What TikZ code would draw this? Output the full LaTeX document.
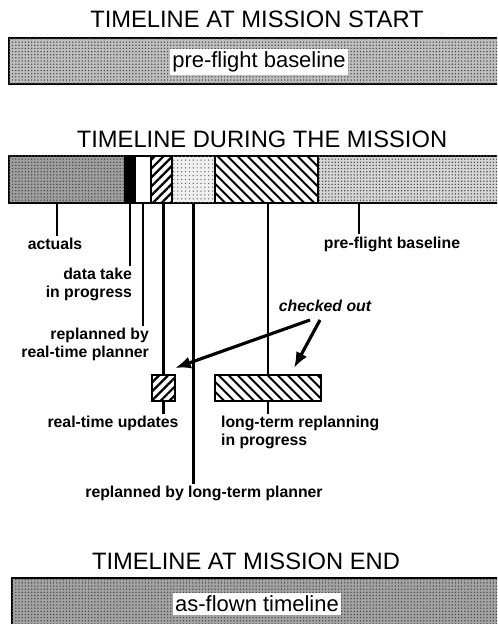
\documentclass[tikz,border=0pt]{standalone}
\usepackage{fontspec}
\setmainfont{Liberation Sans}
\usetikzlibrary{patterns.meta,arrows.meta}
\tikzset{
  seg/.style={draw,line width=1.1pt,inner sep=0pt,outer sep=0pt,anchor=north west,minimum height=0.94cm},
  dotted fill/.style={fill=gray!#1,postaction={pattern={Dots[distance=1.8pt,radius=0.45pt]},pattern color=black!70}},
  upHatch/.style={pattern={Lines[angle=45,distance=3.6pt,line width=1.3pt]}},
  downHatch/.style={pattern={Lines[angle=-45,distance=4pt,line width=1.2pt]}},
  title/.style={font=\fontsize{13.5}{16}\selectfont},
  barlbl/.style={fill=white,inner sep=1.5pt,font=\fontsize{12.5}{15}\selectfont},
  lbl/.style={inner sep=1pt,font=\bfseries\fontsize{9}{10}\selectfont},
  leader/.style={line width=1.3pt},
  pointer/.style={line width=1.8pt,-{Latex[length=9pt,width=7pt]}}
}
\begin{document}
\begin{tikzpicture}[x=0.02cm,y=-0.02cm]
\useasboundingbox (0,0) rectangle (497,624);
\clip (0,0) rectangle (497,624);
% mission start
\node[title] (tStart) at (257,19) {TIMELINE AT MISSION START};
\node[seg,dotted fill=50,minimum width=9.82cm,minimum height=0.92cm] (barStart) at (9,38) {};
\node[barlbl] (pfbStart) at (259,62) {pre-flight baseline};
% during the mission
\node[title] (tDuring) at (262,139) {TIMELINE DURING THE MISSION};
\node[seg,dotted fill=75,minimum width=2.32cm] (act) at (9,156) {};
\node[seg,fill=black,minimum width=0.2cm] (dtk) at (125,156) {};
\node[seg,fill=white,minimum width=0.32cm] (rtp) at (135,156) {};
\node[seg,upHatch,minimum width=0.42cm] (rtu) at (151,156) {};
\node[seg,fill=gray!12,postaction={pattern={Dots[distance=2.2pt,radius=0.4pt]},pattern color=black!60},minimum width=0.86cm] (ltp) at (172,156) {};
\node[seg,downHatch,minimum width=2.06cm] (ltr) at (215,156) {};
\node[seg,dotted fill=32,minimum width=3.64cm] (pfb) at (318,156) {};
% labels under the bar
\node[lbl] (actL) at (55,244) {actuals};
\node[lbl,align=right,anchor=north east] (dtkL) at (134,266) {data take\\in progress};
\node[lbl,align=right,anchor=north east] (rtpL) at (151,326) {replanned by\\real-time planner};
\node[seg,upHatch,minimum width=0.46cm,minimum height=0.52cm,anchor=center] (rtuBox) at (163.5,388) {};
\node[lbl,anchor=north] (rtuL) at (113,414) {real-time updates};
\node[lbl,anchor=north] (ltpL) at (204,484) {replanned by long-term planner};
\node[seg,downHatch,minimum width=2.12cm,minimum height=0.52cm,anchor=center] (ltrBox) at (268,388) {};
\node[lbl,align=left,anchor=north west] (ltrL) at (219,414) {long-term replanning\\in progress};
\node[lbl] (pfbL) at (392,244) {pre-flight baseline};
\node[lbl,font=\bfseries\itshape\fontsize{9}{10}\selectfont] (chk) at (325,306) {checked out};
% leaders
\draw[leader] ([xshift=0.96cm]act.south west) coordinate (actTop) -- (actTop |- actL.north);
\draw[leader] (dtk.south) -- (dtk.south |- dtkL.north);
\draw[leader] (rtp.south) -- (rtp.south |- rtpL.north);
\draw[leader] (rtu.south -| rtuBox.north) -- (rtuBox.north);
\draw[leader] (rtuBox.south) -- (rtuBox.south |- rtuL.north);
\draw[leader] (ltp.south) -- (ltp.south |- ltpL.north);
\draw[leader] (ltr.south -| ltrBox.north) -- (ltrBox.north);
\draw[leader] (ltrBox.south) -- (ltrBox.south |- ltrL.north);
\draw[leader] ([xshift=0.82cm]pfb.south west) coordinate (pfbTop) -- (pfbTop |- pfbL.north);
% checked out
\draw[pointer] ([shift={(-15,14)}]chk.center) -- ([shift={(0,-7)}]rtuBox.north east);
\draw[pointer] ([shift={(-5,14)}]chk.center) -- ([shift={(26,-7)}]ltrBox.north);
% mission end
\node[title] (tEnd) at (246,561) {TIMELINE AT MISSION END};
\node[seg,dotted fill=72,minimum width=9.76cm,minimum height=1.04cm] (barEnd) at (12,578) {};
\node[barlbl] (asFlown) at (257,604) {as-flown timeline};
\end{tikzpicture}
\end{document}
